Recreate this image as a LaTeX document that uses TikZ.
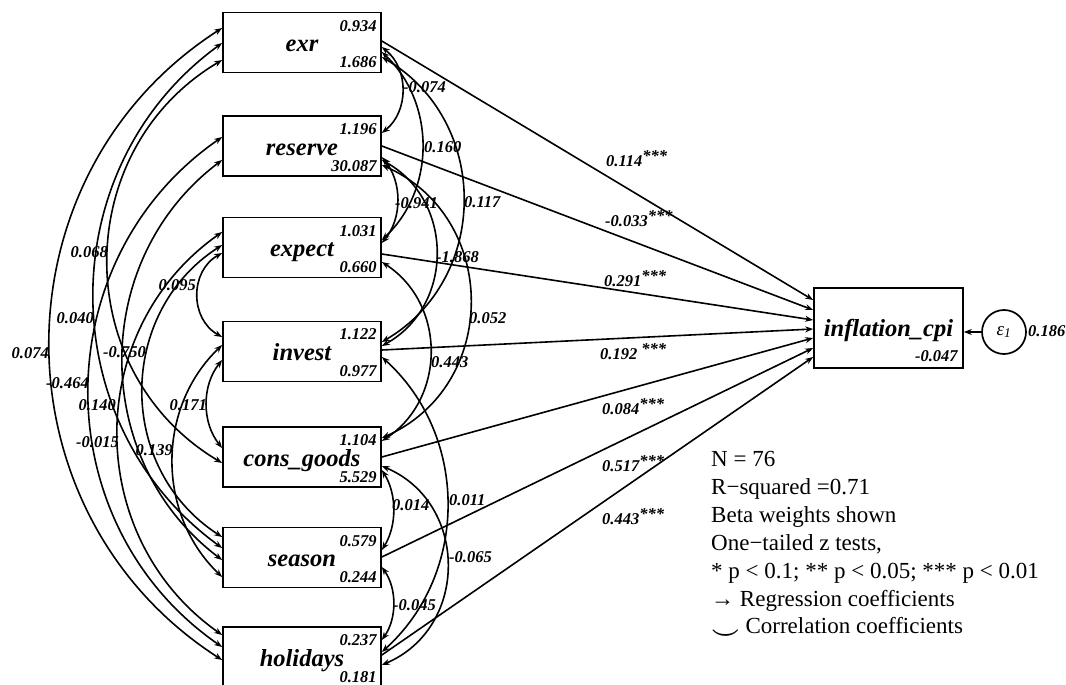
\documentclass[tikz,border=0pt]{standalone}
\usepackage{fontspec}
\setmainfont{Liberation Serif}
\usetikzlibrary{arrows.meta,calc}
\newcommand\covleft[5]{%
  \pgfmathsetmacro\cvL{#4-#2}%
  \pgfmathsetmacro\cvt{2*#5/\cvL}%
  \pgfmathsetmacro\cvh{\cvL*(1-\cvt*\cvt)/3}%
  \pgfmathsetmacro\cvx{223-4*#5/3}%
  \draw[cov] (#1.west |- 0,#2) .. controls (\cvx,#2+\cvh) and (\cvx,#4-\cvh) .. (#3.west |- 0,#4);%
}
\newcommand\covright[5]{%
  \pgfmathsetmacro\cvL{#4-#2}%
  \pgfmathsetmacro\cvt{2*#5/\cvL}%
  \pgfmathsetmacro\cvh{\cvL*(1-\cvt*\cvt)/3}%
  \pgfmathsetmacro\cvx{381+4*#5/3}%
  \draw[cov] (#1.east |- 0,#2) .. controls (\cvx,#2+\cvh) and (\cvx,#4-\cvh) .. (#3.east |- 0,#4);%
}
\newcommand\stars{\raisebox{4.5pt}{***}}
\begin{document}
\begin{tikzpicture}[x=1pt,y=-1pt,
  box/.style={draw, line width=1.7pt, minimum width=158pt, minimum height=60pt, inner sep=0pt,
    text height=18pt, text depth=0pt,
    font=\fontsize{24.5}{27}\selectfont\bfseries\itshape},
  val/.style={inner sep=0pt, font=\fontsize{16.5}{18}\selectfont\bfseries\itshape},
  reg/.style={line width=1.6pt, -{Stealth[length=8pt,width=6pt]}},
  cov/.style={line width=1.6pt, {Stealth[length=8pt,width=6pt]}-{Stealth[length=8pt,width=6pt]}},
  leg/.style={inner sep=0pt, anchor=base west, font=\fontsize{23}{26}\selectfont}]
\useasboundingbox (0,0) rectangle (1066,685);
\fill[white] (0,0) rectangle (1066,685);

% exogenous boxes
\node[box] (exr) at (302,42.5) {exr};
\node[box] (reserve) at (302,146) {reserve};
\node[box] (expect) at (302,247.5) {expect};
\node[box] (invest) at (302,351.5) {invest};
\node[box] (cons) at (302,457) {cons\_goods};
\node[box] (season) at (302,557.5) {season};
\node[box] (hol) at (302,657) {holidays};

\foreach \n/\a/\b in {exr/0.934/1.686, reserve/1.196/30.087, expect/1.031/0.660,
   invest/1.122/0.977, cons/1.104/5.529, season/0.579/0.244, hol/0.237/0.181}{
  \node[val,anchor=east] (\n-m) at ($(\n.north east)+(-5,14)$) {\a};
  \node[val,anchor=east] (\n-v) at ($(\n.south east)+(-5,-11)$) {\b};
}

% endogenous
\node[box, minimum width=149pt, minimum height=80pt, text height=16pt] (infl) at (888.5,328) {inflation\_cpi};
\node[val,anchor=east] (infl-c) at ($(infl.south east)+(-6,-13)$) {-0.047};
\node[draw, circle, line width=1.7pt, minimum size=44pt, inner sep=0pt,
  font=\fontsize{19}{21}\selectfont\itshape] (eps) at (1004,332) {ε\textsubscript{1}};
\node[val,anchor=west] (eps-v) at (1028,331) {0.186};
\draw[reg] (eps.west) -- (infl.east |- eps.west);

% regression paths
\draw[reg] (exr.east |- 0,41) -- (infl.west |- 0,300);
\draw[reg] (reserve.east |- 0,146) -- (infl.west |- 0,310);
\draw[reg] (expect.east |- 0,254) -- (infl.west |- 0,320);
\draw[reg] (invest.east |- 0,350) -- (infl.west |- 0,329);
\draw[reg] (cons.east |- 0,457) -- (infl.west |- 0,338);
\draw[reg] (season.east |- 0,557) -- (infl.west |- 0,348);
\draw[reg] (hol.east |- 0,655) -- (infl.west |- 0,357);

\node[val,anchor=base west] (r1) at (606,166) {0.114\stars};
\node[val,anchor=base west] (r2) at (605,226) {-0.033\stars};
\node[val,anchor=base west] (r3) at (604,286) {0.291\stars};
\node[val,anchor=base west] (r4) at (600,359) {0.192 \stars};
\node[val,anchor=base west] (r5) at (602,414) {0.084\stars};
\node[val,anchor=base west] (r6) at (602,471) {0.517\stars};
\node[val,anchor=base west] (r7) at (602,524) {0.443\stars};

% covariances, left side
\covleft{exr}{28}{hol}{660}{173}
\covleft{exr}{43}{season}{548}{129}
\covleft{exr}{60}{cons}{463}{115}
\covleft{reserve}{137}{hol}{647}{134}
\covleft{reserve}{160}{season}{560}{100}
\covleft{expect}{232}{hol}{635}{105}
\covleft{expect}{245}{season}{537}{80}
\covleft{expect}{253}{invest}{337}{25}
\covleft{invest}{345}{season}{577}{50}
\covleft{invest}{360}{cons}{448}{16}

\node[val,anchor=east] (c1) at (49,353) {0.074};
\node[val,anchor=east] (c2) at (108,252) {0.068};
\node[val,anchor=east] (c3) at (94,318) {0.040};
\node[val,anchor=east] (c4) at (146,352) {-0.750};
\node[val,anchor=east] (c5) at (89,383) {-0.464};
\node[val,anchor=east] (c6) at (116,405) {0.140};
\node[val,anchor=east] (c7) at (119,442) {-0.015};
\node[val,anchor=east] (c8) at (173,450) {0.139};
\node[val,anchor=east] (c9) at (196,285) {0.095};
\node[val,anchor=east] (c10) at (207,405) {0.171};

% covariances, right side
\covright{exr}{47}{reserve}{133}{21}
\covright{exr}{52}{expect}{240}{41}
\covright{exr}{57}{invest}{342}{82}
\covright{reserve}{157}{expect}{243}{16}
\covright{reserve}{160}{invest}{346}{55}
\covright{reserve}{165}{cons}{438}{89}
\covright{expect}{262}{cons}{441}{49}
\covright{cons}{470}{season}{550}{12}
\covright{invest}{357}{hol}{652}{66}
\covright{cons}{466}{hol}{665}{66}
\covright{season}{567}{hol}{640}{12}

\node[val,anchor=west] (d1) at (403,87) {-0.074};
\node[val,anchor=west] (d2) at (424,147) {0.160};
\node[val,anchor=west] (d3) at (464,202) {0.117};
\node[val,anchor=west] (d4) at (395,203) {-0.941};
\node[val,anchor=west] (d5) at (436,257) {-1.868};
\node[val,anchor=west] (d6) at (469,318) {0.052};
\node[val,anchor=west] (d7) at (431,362) {0.443};
\node[val,anchor=west] (d8) at (392,505) {0.014};
\node[val,anchor=west] (d9) at (449,500) {0.011};
\node[val,anchor=west] (d10) at (449,557) {-0.065};
\node[val,anchor=west] (d11) at (393,605) {-0.045};

% legend
\node[leg] (l1) at (711,466) {N = 76};
\node[leg] (l2) at (711,494) {R−squared =0.71};
\node[leg] (l3) at (711,522) {Beta weights shown};
\node[leg] (l4) at (711,550) {One−tailed z tests,};
\node[leg] (l5) at (711,578) {* p < 0.1; ** p < 0.05; *** p < 0.01};
\node[leg] (l6) at (711,606) {→ Regression coefficients};
\node[leg] (l7) at (711,633) {\raisebox{-0.3em}{\boldmath$\smile$} Correlation coefficients};
\end{tikzpicture}
\end{document}
